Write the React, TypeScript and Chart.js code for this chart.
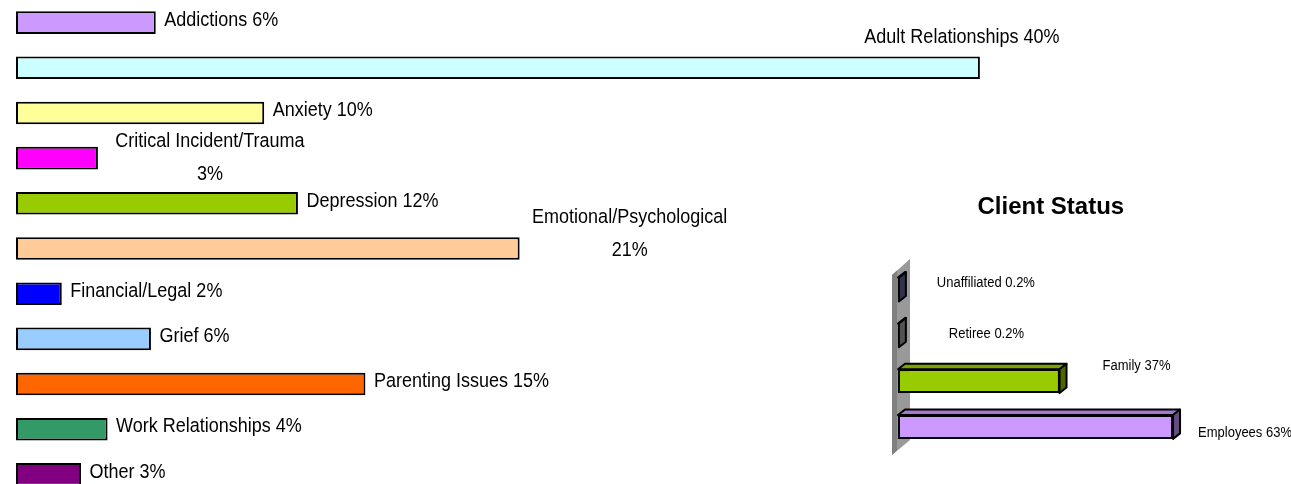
import { useEffect, useRef } from 'react';
import { Chart, registerables } from 'chart.js';

Chart.register(...registerables);

// ---------- Data: presenting issues (left chart) ----------
const issueCategories = [
  'Addictions',
  'Adult Relationships',
  'Anxiety',
  'Critical Incident/Trauma',
  'Depression',
  'Emotional/Psychological',
  'Financial/Legal',
  'Grief',
  'Parenting Issues',
  'Work Relationships',
  'Other',
];
const issueValues = [5.8, 40.0, 10.3, 3.4, 11.7, 20.9, 1.9, 5.6, 14.5, 3.8, 2.7];
const issuePercentLabels = ['6%', '40%', '10%', '3%', '12%', '21%', '2%', '6%', '15%', '4%', '3%'];
const issueColors = [
  '#CC99FF',
  '#CCFFFF',
  '#FFFF99',
  '#FF00FF',
  '#99CC00',
  '#FFCC99',
  '#0000FF',
  '#99CCFF',
  '#FF6600',
  '#339966',
  '#800080',
];

// ---------- Data: client status (right chart) ----------
const statusTitle = 'Client Status';
const statusCategories = ['Unaffiliated', 'Retiree', 'Family', 'Employees'];
const statusValues = [0.2, 0.2, 37, 63];
const statusPercentLabels = ['0.2%', '0.2%', '37%', '63%'];
const statusColors = ['#666699', '#A6A6A6', '#99CC00', '#CC99FF'];

// ---------- helpers ----------
let narrowAvailable: boolean | null = null;
function hasNarrow(): boolean {
  if (narrowAvailable !== null) return narrowAvailable;
  const ctx = document.createElement('canvas').getContext('2d')!;
  ctx.font = '40px "Liberation Sans Narrow", monospace';
  const a = ctx.measureText('Addictions Relationships').width;
  ctx.font = '40px monospace';
  const b = ctx.measureText('Addictions Relationships').width;
  narrowAvailable = Math.abs(a - b) > 1;
  return narrowAvailable;
}

function shade(hex: string, f: number): string {
  const n = parseInt(hex.slice(1), 16);
  const r = Math.round(((n >> 16) & 255) * f);
  const g = Math.round(((n >> 8) & 255) * f);
  const b = Math.round((n & 255) * f);
  return `rgb(${r},${g},${b})`;
}

// draws text stretched vertically (the original uses tall, condensed glyphs)
function tallText(ctx: CanvasRenderingContext2D, text: string, x: number, y: number, sy: number) {
  ctx.save();
  ctx.translate(x, y);
  ctx.scale(1, sy);
  ctx.fillText(text, 0, 0);
  ctx.restore();
}

type Placement = { align: CanvasTextAlign; dx: number; dy: number; wrap?: boolean };
const issueDefaultPlacement: Placement = { align: 'left', dx: 8.5, dy: -2.5 };
const issuePlacement: Record<number, Placement> = {
  1: { align: 'center', dx: -18, dy: -30.5 },
  3: { align: 'center', dx: 112, dy: -16.5, wrap: true },
  5: { align: 'center', dx: 110, dy: -31, wrap: true },
};
const statusPlacement: Placement[] = [
  { align: 'left', dx: 38, dy: -6.5 },
  { align: 'left', dx: 50, dy: -1 },
  { align: 'left', dx: 43, dy: -15.5 },
  { align: 'left', dx: 25, dy: 6 },
];

export default function App() {
  const leftRef = useRef<HTMLCanvasElement>(null);
  const rightRef = useRef<HTMLCanvasElement>(null);

  useEffect(() => {
    const narrow = hasNarrow();
    const leftFont = narrow ? '22px "Liberation Sans Narrow"' : '18px "Liberation Sans"';
    const rightFont = narrow ? '15.5px "Liberation Sans Narrow"' : '13px "Liberation Sans"';
    const stretch = narrow ? 1 : 1.16;

    const issueLabelsPlugin = {
      id: 'issueLabels',
      afterDatasetsDraw(chart: any) {
        const ctx = chart.ctx as CanvasRenderingContext2D;
        const meta = chart.getDatasetMeta(0);
        ctx.save();
        ctx.font = leftFont;
        ctx.fillStyle = '#000';
        ctx.textBaseline = 'middle';
        meta.data.forEach((el: any, i: number) => {
          const { x, y } = el.getProps(['x', 'y'], true);
          const p = issuePlacement[i] || issueDefaultPlacement;
          const lines = p.wrap
            ? [issueCategories[i], issuePercentLabels[i]]
            : [`${issueCategories[i]} ${issuePercentLabels[i]}`];
          ctx.textAlign = p.align;
          lines.forEach((ln, k) => tallText(ctx, ln, x + p.dx, y + p.dy + k * 33, stretch));
        });
        ctx.restore();
      },
    };

    const left = new Chart(leftRef.current!, {
      type: 'bar',
      data: {
        labels: issueCategories,
        datasets: [
          {
            data: issueValues,
            backgroundColor: issueColors,
            borderColor: '#000',
            borderWidth: 2,
            borderSkipped: false,
            barPercentage: 0.5,
            categoryPercentage: 1,
          },
        ],
      },
      options: {
        indexAxis: 'y',
        responsive: false,
        animation: false,
        layout: { padding: { left: 16, right: 287, top: 0, bottom: 0 } },
        scales: {
          x: { display: false, min: 0, max: 41 },
          y: { display: false },
        },
        plugins: { legend: { display: false }, tooltip: { enabled: false } },
      },
      plugins: [issueLabelsPlugin],
    } as any);

    const DX = 7;
    const DY = -5.5;
    const status3dPlugin = {
      id: 'status3d',
      beforeDatasetsDraw(chart: any) {
        const ctx = chart.ctx as CanvasRenderingContext2D;
        const a = chart.chartArea;
        const L = a.left;
        const T = a.top;
        const B = a.bottom;
        ctx.save();
        // side wall
        ctx.beginPath();
        ctx.moveTo(L - 6, T + 8.4);
        ctx.lineTo(L + 12, T - 7.6);
        ctx.lineTo(L + 12, B - 10);
        ctx.lineTo(L - 6, B + 5);
        ctx.closePath();
        ctx.fillStyle = '#999999';
        ctx.fill();
        ctx.beginPath();
        ctx.moveTo(L - 6, T + 8.4);
        ctx.lineTo(L - 1, T + 4);
        ctx.lineTo(L - 1, B + 0.6);
        ctx.lineTo(L - 6, B + 5);
        ctx.closePath();
        ctx.fillStyle = '#808080';
        ctx.fill();
        ctx.restore();
      },
      afterDatasetsDraw(chart: any) {
        const ctx = chart.ctx as CanvasRenderingContext2D;
        const meta = chart.getDatasetMeta(0);
        ctx.save();
        ctx.lineWidth = 2;
        ctx.strokeStyle = '#000';
        ctx.lineJoin = 'round';
        meta.data.forEach((el: any, i: number) => {
          const { x, y, base, height } = el.getProps(['x', 'y', 'base', 'height'], true);
          const top = y - height / 2;
          const bottom = y + height / 2;
          const col = statusColors[i];
          // top face
          ctx.beginPath();
          ctx.moveTo(base, top);
          ctx.lineTo(x, top);
          ctx.lineTo(x + DX, top + DY);
          ctx.lineTo(base + DX, top + DY);
          ctx.closePath();
          ctx.fillStyle = shade(col, 0.8);
          ctx.fill();
          ctx.stroke();
          // side face
          ctx.beginPath();
          ctx.moveTo(x, top);
          ctx.lineTo(x + DX, top + DY);
          ctx.lineTo(x + DX, bottom + DY);
          ctx.lineTo(x, bottom);
          ctx.closePath();
          ctx.fillStyle = shade(col, 0.5);
          ctx.fill();
          ctx.stroke();
        });
        ctx.restore();
      },
      afterDraw(chart: any) {
        const ctx = chart.ctx as CanvasRenderingContext2D;
        const meta = chart.getDatasetMeta(0);
        ctx.save();
        ctx.font = rightFont;
        ctx.fillStyle = '#000';
        ctx.textBaseline = 'middle';
        meta.data.forEach((el: any, i: number) => {
          const { x, y } = el.getProps(['x', 'y'], true);
          const p = statusPlacement[i];
          ctx.textAlign = p.align;
          tallText(ctx, `${statusCategories[i]} ${statusPercentLabels[i]}`, x + p.dx, y + p.dy, stretch);
        });
        ctx.restore();
      },
    };

    const right = new Chart(rightRef.current!, {
      type: 'bar',
      data: {
        labels: statusCategories,
        datasets: [
          {
            data: statusValues,
            backgroundColor: statusColors,
            borderColor: '#000',
            borderWidth: 2,
            borderSkipped: false,
            barPercentage: 0.52,
            categoryPercentage: 1,
          },
        ],
      },
      options: {
        indexAxis: 'y',
        responsive: false,
        animation: false,
        layout: { padding: { left: 18, right: 87.4, top: 12.6, bottom: 30.1 } },
        scales: {
          x: { display: false, min: 0, max: 70 },
          y: { display: false },
        },
        plugins: {
          legend: { display: false },
          tooltip: { enabled: false },
          title: {
            display: true,
            text: statusTitle,
            color: '#000',
            font: { family: '"Liberation Sans", Arial, sans-serif', size: 24, weight: 'bold' },
            padding: { top: 0, bottom: 45.2 },
          },
        },
      },
      plugins: [status3dPlugin],
    } as any);

    return () => {
      left.destroy();
      right.destroy();
    };
  }, []);

  return (
    <div
      style={{
        position: 'fixed',
        left: 0,
        top: 0,
        width: 1291,
        height: 484,
        overflow: 'hidden',
        background: '#fff',
      }}
    >
      <canvas
        ref={leftRef}
        width={1291}
        height={497}
        style={{ position: 'absolute', left: 0, top: 0, display: 'block' }}
      />
      <canvas
        ref={rightRef}
        width={411}
        height={300}
        style={{ position: 'absolute', left: 880, top: 180, display: 'block' }}
      />
    </div>
  );
}
